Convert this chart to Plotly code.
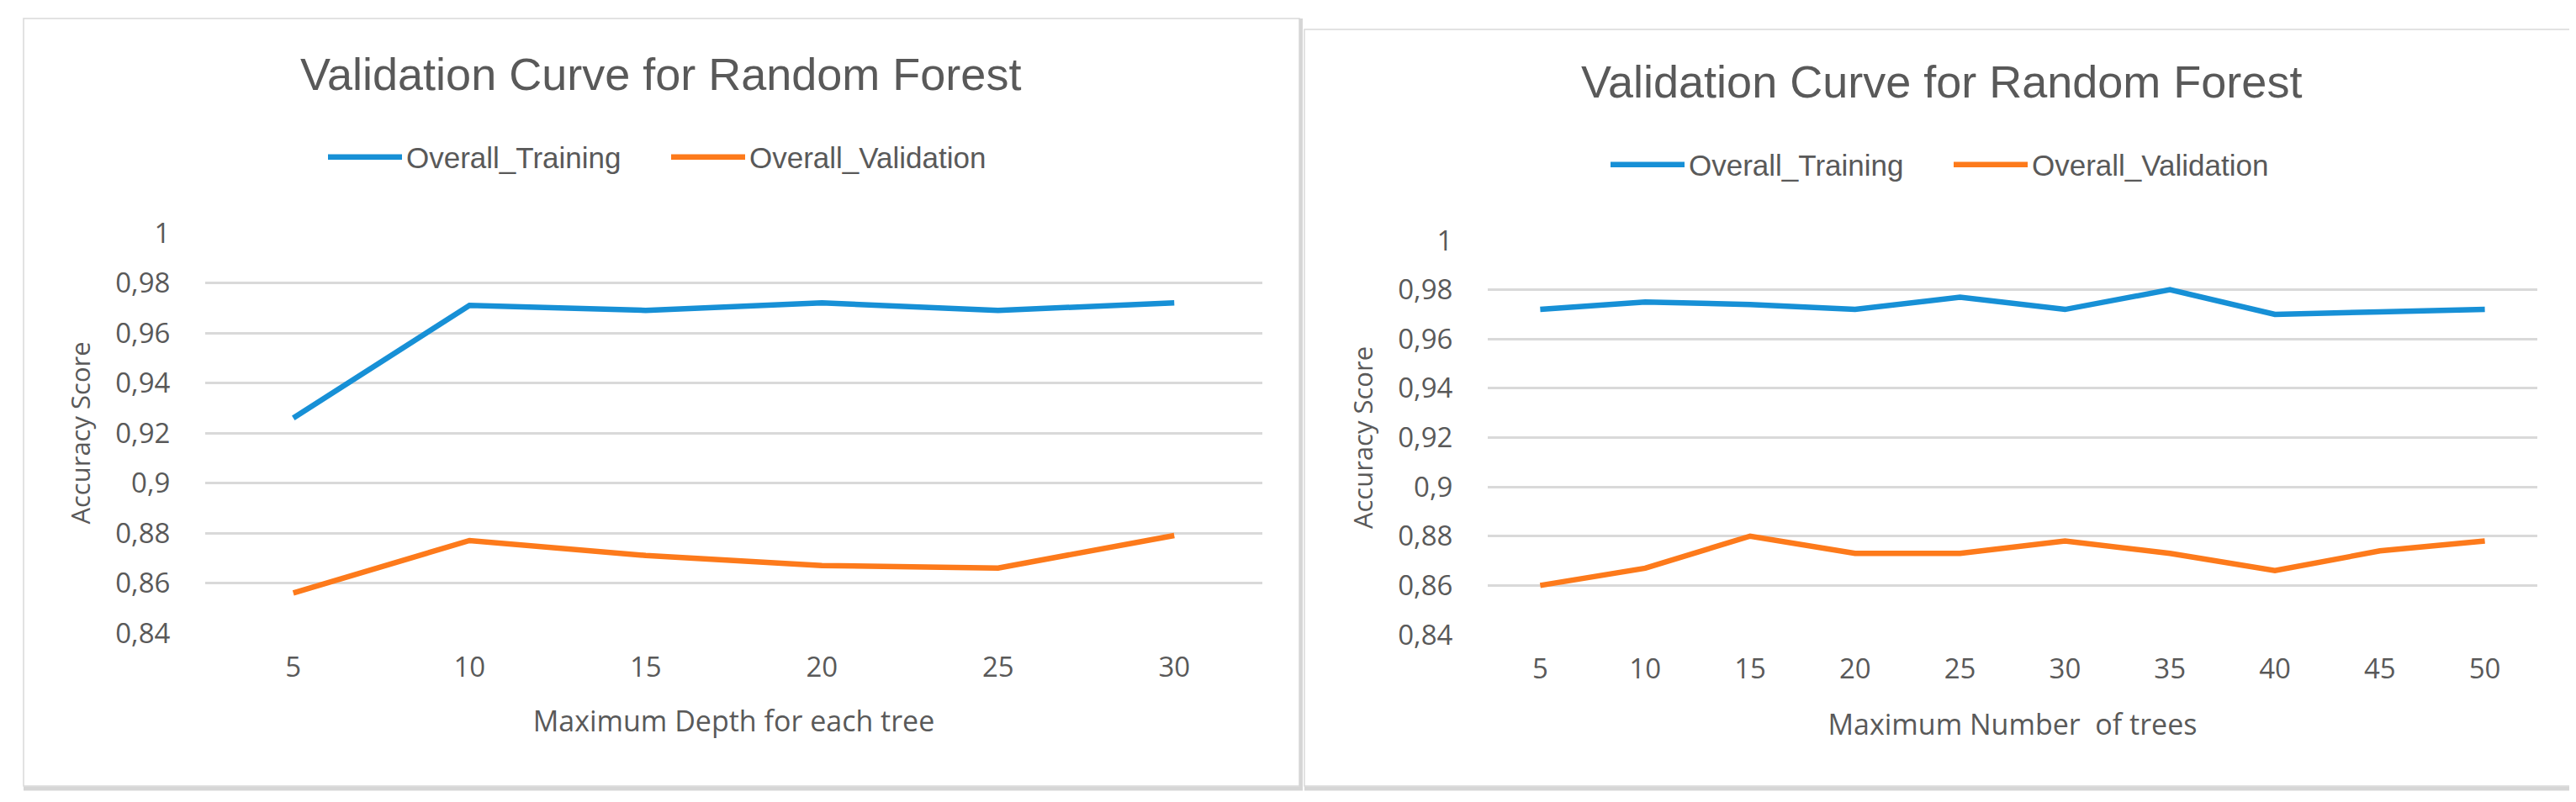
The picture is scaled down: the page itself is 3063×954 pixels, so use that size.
import plotly.graph_objects as go

W, H = 3063, 954

# ---- data ----
depth_labels = ["5", "10", "15", "20", "25", "30"]
depth_train = [0.926, 0.971, 0.969, 0.972, 0.969, 0.972]
depth_valid = [0.856, 0.877, 0.871, 0.867, 0.866, 0.879]

trees_labels = ["5", "10", "15", "20", "25", "30", "35", "40", "45", "50"]
trees_train = [0.972, 0.975, 0.974, 0.972, 0.977, 0.972, 0.980, 0.970, 0.971, 0.972]
trees_valid = [0.860, 0.867, 0.880, 0.873, 0.873, 0.878, 0.873, 0.866, 0.874, 0.878]

ytick_vals = [0.84, 0.86, 0.88, 0.90, 0.92, 0.94, 0.96, 0.98, 1.0]
ytick_text = ["0,84", "0,86", "0,88", "0,9", "0,92", "0,94", "0,96", "0,98", "1"]

chart_title = "Validation Curve for Random Forest"
y_title = "Accuracy Score"
x_title_left = "Maximum Depth for each tree"
x_title_right = "Maximum Number  of trees"
name_train = "Overall_Training"
name_valid = "Overall_Validation"

BLUE = "#1790d6"
ORANGE = "#fd7a1b"
GRAY_TXT = "#595959"
GRID = "#d9d9d9"
NARROW = "Liberation Sans, Arial, sans-serif"
REG = "Open Sans, sans-serif"


def px(x):
    return x / W


def py(y):
    return 1 - y / H


fig = go.Figure()
fig.add_trace(go.Scatter(x=depth_labels, y=depth_train, mode="lines", name=name_train,
                         line=dict(color=BLUE, width=6.5), xaxis="x", yaxis="y", legend="legend"))
fig.add_trace(go.Scatter(x=depth_labels, y=depth_valid, mode="lines", name=name_valid,
                         line=dict(color=ORANGE, width=6.5), xaxis="x", yaxis="y", legend="legend"))
fig.add_trace(go.Scatter(x=trees_labels, y=trees_train, mode="lines", name=name_train,
                         line=dict(color=BLUE, width=6.5), xaxis="x2", yaxis="y2", legend="legend2"))
fig.add_trace(go.Scatter(x=trees_labels, y=trees_valid, mode="lines", name=name_valid,
                         line=dict(color=ORANGE, width=6.5), xaxis="x2", yaxis="y2", legend="legend2"))

tickfont = dict(family=REG, size=33, color=GRAY_TXT)
xcommon = dict(type="category", showgrid=False, showline=False, zeroline=False, ticks="",
               tickfont=tickfont, ticklabelstandoff=18, automargin=False)
ycommon = dict(range=[0.84, 1.0], tickvals=ytick_vals, ticktext=ytick_text, showgrid=True,
               gridcolor=GRID, gridwidth=2.5, showline=False, zeroline=False,
               ticks="outside", ticklen=34, tickcolor="rgba(0,0,0,0)",
               tickfont=tickfont, automargin=False)

fig.update_layout(
    width=W, height=H,
    margin=dict(l=0, r=0, t=0, b=0),
    paper_bgcolor="white", plot_bgcolor="white",
    xaxis=dict(domain=[px(236), px(1493)], anchor="y", range=[-0.5, len(depth_labels) - 0.5],
               title=dict(text=x_title_left, font=dict(family=REG, size=34, color=GRAY_TXT), standoff=32),
               **xcommon),
    yaxis=dict(domain=[py(745), py(269)], anchor="x",
               title=dict(text=y_title, font=dict(family=REG, size=31, color=GRAY_TXT), standoff=20),
               **ycommon),
    xaxis2=dict(domain=[px(1761), px(3009)], anchor="y2", range=[-0.5, len(trees_labels) - 0.5],
                title=dict(text=x_title_right, font=dict(family=REG, size=34, color=GRAY_TXT), standoff=34),
                **xcommon),
    yaxis2=dict(domain=[py(747), py(278)], anchor="x2",
                title=dict(text=y_title, font=dict(family=REG, size=31, color=GRAY_TXT), standoff=20),
                **ycommon),
    legend=dict(orientation="h", x=px(785), xanchor="center", y=py(179), yanchor="middle",
                font=dict(family=NARROW, size=35, color=GRAY_TXT), itemwidth=88,
                entrywidth=305, entrywidthmode="pixels",
                bgcolor="rgba(0,0,0,0)"),
    legend2=dict(orientation="h", x=px(2310), xanchor="center", y=py(188), yanchor="middle",
                 font=dict(family=NARROW, size=35, color=GRAY_TXT), itemwidth=88,
                 entrywidth=305, entrywidthmode="pixels",
                 bgcolor="rgba(0,0,0,0)"),
    showlegend=True,
)

fig.add_annotation(text=chart_title, xref="paper", yref="paper", x=px(777), y=py(80),
                   xanchor="center", yanchor="middle", showarrow=False,
                   font=dict(family=NARROW, size=54, color=GRAY_TXT))
fig.add_annotation(text=chart_title, xref="paper", yref="paper", x=px(2300), y=py(89),
                   xanchor="center", yanchor="middle", showarrow=False,
                   font=dict(family=NARROW, size=54, color=GRAY_TXT))

# chart frames and shadows
for (x0, y0, x1, y1) in [(20, 14, 1537, 927), (1543, 27, 3053, 927)]:
    fig.add_shape(type="rect", xref="paper", yref="paper", x0=px(x0), x1=px(x1), y0=py(y1), y1=py(y0),
                  line=dict(color="#d9d9d9", width=1.5), fillcolor="rgba(0,0,0,0)", layer="below")
    fig.add_shape(type="line", xref="paper", yref="paper", x0=px(x0), x1=px(x1 + 4), y0=py(y1 + 3), y1=py(y1 + 3),
                  line=dict(color="#d6d6d6", width=5))
    fig.add_shape(type="line", xref="paper", yref="paper", x0=px(x1 + 2), x1=px(x1 + 2), y0=py(y0), y1=py(y1 + 5),
                  line=dict(color="#d6d6d6", width=4))

fig.write_html("out.html")
